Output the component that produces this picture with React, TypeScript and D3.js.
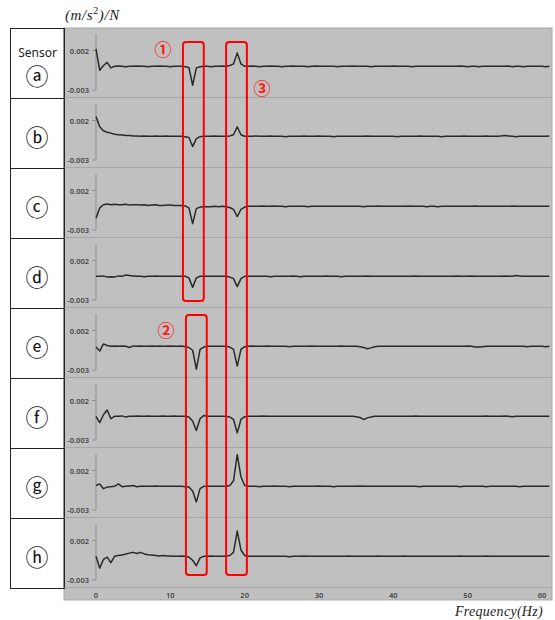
import React from "react";
import * as d3 from "d3";

// Values in units of 1e-4 (m/s^2)/N, sampled every 0.5 Hz from 0 to 61 Hz
const sensors = ["ⓐ", "ⓑ", "ⓒ", "ⓓ", "ⓔ", "ⓕ", "ⓖ", "ⓗ"];
const xTicks = [0, 10, 20, 30, 40, 50, 60];
const yTicks = [20, -30];
const yTickLabels = ["0.002", "-0.003"];

const seriesA = [
  22, -5, 1, 5, -2, 0, 0.5, 0, -0.5, 0,
  0, 0.5, 0, 0, -0.5, 0, 0, 0.5, 0, 0,
  -0.5, 0, 0, 0, -0.5, -1.5, -24, -2, -0.5, 0,
  0, -0.5, 0, 0, 0.5, 0, 1, 3, 17, 3,
  0, 0, 0.5, 0, -0.5, 0, 0, 0.5, 0, 0,
  -0.5, 0, 0, 0.5, 0, 0, 0, -0.5, 0, 0.5,
  0, 0, 0, 0, 0, -0.5, 0, 0, 0, 0.5,
  0, 0, 0, 0, -0.5, 0, 0, 0, 0, 0,
  0.5, 0, 0, 0, 0, -0.5, 0, 0, 0, 0,
  0, 0, 0, 0, 0, 0, 0, 0, 0.5, 0,
  -0.5, 0, 0, -0.5, 0, 0, 0, 0, 0, 0,
  0, 0.5, -0.5, 0, 0, -0.5, 0, 0, 0, 0,
  0, -0.5, 0,
];
const seriesB = [
  25, 12, 7, 5, 4, 2.5, 2, 1.5, 1, 1,
  0.5, 0.5, 0, 0.5, 0, 0, 0.5, 0, 0, 0.5,
  0, 0, 0, 0, -0.5, -1.5, -13, -3, -0.5, 0,
  0, 0, 0.5, 0, 0, 0, 0.5, 2, 12, 2,
  0, 0, 0, 0.5, 0, 0, 0, 0.5, 0, 0,
  0, -0.5, 0, 0, 0, 0, 0.5, 0, 0, 0,
  0.5, 0, 0, 0, -0.5, 0, 0, 0, 0, 0,
  0, 0, 0, 0.5, 0, 0, 0, 0, 0, 0,
  0, -0.5, 0, 0, 0, 0, 0, 0.5, 0, 0,
  0, 0, 0, -0.5, 0, 0, 0, 0, 0, 0.5,
  0, 0, 0, 0, 0, 0.5, 0, 0, 0, 0.5,
  1, 0.5, 0, -0.5, 0, 0, 0, 0, 0, 0,
  0, 0, 0.5,
];
const seriesC = [
  -15, -2, 2, 3, 2, 2.5, 2, 2, 2.5, 1.5,
  2, 2, 1.5, 2, 1, 1.5, 2, 1, 1, 1.5,
  1.5, 1, 1, 1, 0.5, -2, -22, -3, -1, -0.5,
  -0.5, -0.5, 0, -0.5, 0, -0.5, -1.5, -4, -13, -4,
  -1, 0, 0, 0, 0, 0.5, 0, 0, 0.5, 0,
  0, -0.5, 0, 0, 0, 0, 0, -0.5, 0, 0,
  0, 0, 0, 0, 0, 0, 0, 0, 0, 0,
  0, 0, -0.5, 0, 0, 0, 0.5, 0, 0, 0,
  0, 0, 0, 0, 0.5, 0, 0, 0, 0, -0.5,
  0, 0, -0.5, 0, 0, 0, 0, 0, 0, 0,
  0, 0, 0.5, 0, 0, 0, 0, 0, 0, 0,
  0, 0, 0.5, 0, 0, 0, 0, 0, 0, 0,
  0, 0, 0,
];
const seriesD = [
  0, 0, 0.5, -1, -0.5, -1, 0.5, 0, 1.5, 1,
  0.5, 0, 0, -0.5, 0, 0, 0.5, 0, 0, 0,
  0, 0, 0, 0, 0, -2, -14, -2, 0, 0,
  0, 0, 0, 0, 0, 0, -1, -3, -13, -3,
  0, 0, 0, 0, 0, 0, 0, -0.5, 0, 0,
  0, 0, 0, 0.5, 0, -0.5, 0, 0, 0, 0,
  0, 0, 0.5, 0, 0, 0, -0.5, 0, 0, 0,
  0, 0, 0, 0.5, 0, 0, 0, 0, 0, 0,
  0, 0, 0, 0, 0, 0, 0.5, 0, 0, 0,
  0, 0, 0, 0, 0, 0, 0, 0.5, 0, 0,
  0, 0.5, 0, 0, 0, 0, 0, 0, 0, 0,
  0.5, 0, 0, 1, 0.5, 0, 0, 0, 0, 0,
  0, 0, 0,
];
const seriesE = [
  -1, -6, 3, 1, 0, 0.5, 0, 0.5, 0, -1.5,
  0.5, 0, 0.5, 0, 0, 0.5, 0, 0.5, 0, 0,
  0.5, 0, 0, 0.5, -0.5, -1.5, -5, -29, -4, -1,
  0, 0, 0, 0, 0, 0, -1, -4, -25, -4,
  -0.5, 0, 0.5, 0, 0, 0, 0.5, 0, 0, 0,
  0, 0, -0.5, 0, 0, 0, 0, 0, 0.5, 0,
  0, 0, 0, 0, 0, 0, 0.5, 0, 0, 0,
  0, -0.5, -1.5, -3, -2, -0.5, 0, 0, 0, 0,
  0, 0, 0, 0, 0, 0, 0, 0, 0, 0,
  0, 0, 0, 0, 0, 0, 0, 0, 0, 0,
  0.5, 0, -1, -1, -0.5, 0, 0, 0, 0, 0,
  0, 0, 0, 0, 0, 0, -0.5, 0, 0, 0,
  0, -0.5, 0,
];
const seriesF = [
  0, -8, 2, 8, -3, 0, 0, 0.5, -1, 0,
  0, 0.5, 0, 0, 0.5, 0, 0, 0, 0.5, 0,
  0, 0.5, 0, 0, 0, -1, -6, -18, -3, 1,
  0, 0, 0, 0, 0, 0, -1, -4, -21, -4,
  -0.5, 0, 0, 0, 0, 0.5, 0, 0, 0, 0,
  0, 0, 0, 0, 0, 0, 0, 0, 0, 0,
  0, 0, 0, 0, 0, 0, 0, 0, 0, 0,
  -0.5, -1.5, -4, -2, -1, 0, 0, 0, 0, 0,
  0, 0, 0, 0, 0, 0, 0.5, 0, 0, 0,
  0, 0, 0, 0, 0, 0, 0, 0, 0, 0,
  0, 0, 0, 0, 0, 0.5, 0, 0, 0, 0,
  0.5, 0, -0.5, 0, 0, 0, 0, 0, 0, 0,
  0, 0, 0,
];
const seriesG = [
  1, 3, -3, -1, -0.5, 0, 3, -0.5, 0, 0.5,
  1, -0.5, 0, 0, 0, 0, 0.5, 0, 0, 0,
  0, 0, 0, 0, -0.5, -1, -6, -20, -3, 0,
  0, 0, 0, 0, 0, 0, 1, 7, 40, 12,
  1, 0, 0, 0, -0.5, 0, 0, 0, 0.5, 0,
  0, 0, -0.5, 0, 0, 0, 0, 0, 0, 0,
  0.5, 0, 0, 0, -0.5, 0, 0, 0, 0, 0,
  0, 0.5, 0, 0, 0, 0, 0, 0, 0, 0,
  0, 0, 0, 0, 0, 0, 0, -0.5, 0, 0,
  0, 0, 0, 0, 0, 0, 0, 0, -0.5, 0,
  0, 0, 0, 0, 0, -0.5, 0, 0, 0, 0,
  0, 0, 0, 0, -0.5, 0, 0, 0, 0, 0,
  0, 0, 0,
];
const seriesH = [
  0, -15, -4, -1, -8, 0, 1, 1.5, 3, 4,
  5, 3.5, 5, 3, 2, 1.5, 1, 0.5, 1, 0.5,
  0.5, 0, 0, 0.5, 0, -1, -5, -12, -2, 0,
  0, 0.5, 0, 0, 0, 0.5, 1, 5, 32, 8,
  1, 0, 0, 0, 0, 0, 0, 0, 0, 0,
  0, 0, -0.5, 0, 0, 0, 0.5, 0, 0, 0,
  0, 0, 0, 0, 0, 0, 0, 0, 0.5, 0,
  0, 0, 0, 0, 0, 0, 0.5, 0, 0, 0,
  0, 0, 0, 0.5, 0, 0, 0, 0, 0, 0,
  0, 0, 0, 0, 0, 0, 0, 0, 0.5, 0,
  0, 0, 0, 0, 0, 0.5, 0, 0, 0, 0,
  0, 0, 0, 0, 0, 0, 0, 0, 0, 0,
  0, 0, 0,
];
const allSeries = [seriesA, seriesB, seriesC, seriesD, seriesE, seriesF, seriesG, seriesH];
const FREQ_STEP = 0.5;

// Annotation boxes (frequency span) and labels
const boxes = [
  { f0: 11.7, f1: 14.5, y0: 42, y1: 301 },
  { f0: 12.1, f1: 14.9, y0: 315, y1: 575 },
  { f0: 17.5, f1: 20.3, y0: 42, y1: 575 },
];
const marks = [
  { t: "①", x: 163, y: 48 },
  { t: "②", x: 166, y: 329 },
  { t: "③", x: 262, y: 87 },
];

const W = 555, H = 620;
const plotL = 64, plotR = 552, plotT = 28, panelH = 70;
const tableL = 10;

export default function App() {
  const x = d3.scaleLinear().domain([0, 60]).range([96, 542]);
  const y = d3.scaleLinear().domain([-30, 20]).range([62, 22.5]);
  const plotB = plotT + panelH * sensors.length;
  const line = d3
    .line<number>()
    .x((_, i) => x(i * FREQ_STEP))
    .y((d) => y(d));
  const tickFont = "'Noto Sans', sans-serif";
  return (
    <svg width={W} height={H} style={{ position: "absolute", left: 0, top: 0 }}>
      <rect x={0} y={0} width={W} height={H} fill="#fff" />
      <rect x={plotL} y={plotT} width={plotR - plotL} height={600 - plotT} fill="#c0c0c0" stroke="#a8a8a8" strokeWidth={1} />
      {/* table */}
      <rect x={tableL + 0.5} y={plotT + 0.5} width={plotL - tableL} height={plotB - plotT} fill="#fff" stroke="#222" strokeWidth={1} />
      {sensors.map((s, k) => {
        const top = plotT + k * panelH;
        return (
          <g key={k}>
            {k > 0 && <line x1={tableL} x2={plotL} y1={top + 0.5} y2={top + 0.5} stroke="#222" />}
            <line x1={plotL} x2={plotR} y1={top + panelH - 0.5} y2={top + panelH - 0.5} stroke="#a6a6a6" />
            <text x={37} y={k === 0 ? top + 47 : top + 37.5} fontSize={23} fontFamily="'Noto Sans CJK KR'" textAnchor="middle" dominantBaseline="central" fill="#111">{s}</text>
          </g>
        );
      })}
      <line x1={plotL} x2={plotL} y1={plotT} y2={plotB} stroke="#222" />
      <text x={37.5} y={57} fontSize={12} fontFamily="'Noto Sans', sans-serif" textAnchor="middle" fill="#222">Sensor</text>
      {/* panels */}
      {allSeries.map((data, k) => {
        const top = plotT + k * panelH;
        return (
          <g key={k} transform={`translate(0,${top})`}>
            <line x1={96} x2={96} y1={6} y2={62} stroke="#8f8f8f" />
            {yTicks.map((t, j) => (
              <g key={j}>
                <line x1={92} x2={96} y1={y(t)} y2={y(t)} stroke="#8f8f8f" />
                <text x={89} y={y(t)} fontSize={7.5} fontWeight={600} fontFamily={tickFont} textAnchor="end" dominantBaseline="central" fill="#444">{yTickLabels[j]}</text>
              </g>
            ))}
            <path d={line(data) || ""} fill="none" stroke="#2a2a2a" strokeWidth={1.5} strokeLinejoin="round" />
          </g>
        );
      })}
      {xTicks.map((t) => (
        <text key={t} x={x(t)} y={595} fontSize={7.5} fontWeight={600} fontFamily={tickFont} textAnchor="middle" dominantBaseline="central" fill="#444">{t}</text>
      ))}
      {/* annotations */}
      {boxes.map((b, i) => (
        <rect key={i} x={x(b.f0)} y={b.y0} width={x(b.f1) - x(b.f0)} height={b.y1 - b.y0} rx={3} fill="none" stroke="#ff0000" strokeWidth={2} />
      ))}
      {marks.map((m, i) => (
        <text key={i} x={m.x} y={m.y} fontSize={17} fontWeight={700} fontFamily="'Noto Sans CJK KR'" textAnchor="middle" dominantBaseline="central" fill="#ff1a1a">{m.t}</text>
      ))}
      <text x={65} y={19.5} fontSize={15} fontStyle="italic" fontFamily="'Liberation Serif', serif" fill="#222" letterSpacing={0.6}>
        (m/s<tspan dy={-6} fontSize={10} fontStyle="normal">2</tspan><tspan dy={6}>)/N</tspan>
      </text>
      <text x={543} y={616} fontSize={14} fontStyle="italic" fontFamily="'Liberation Serif', serif" textAnchor="end" fill="#222" letterSpacing={0.3}>Frequency(Hz)</text>
    </svg>
  );
}
